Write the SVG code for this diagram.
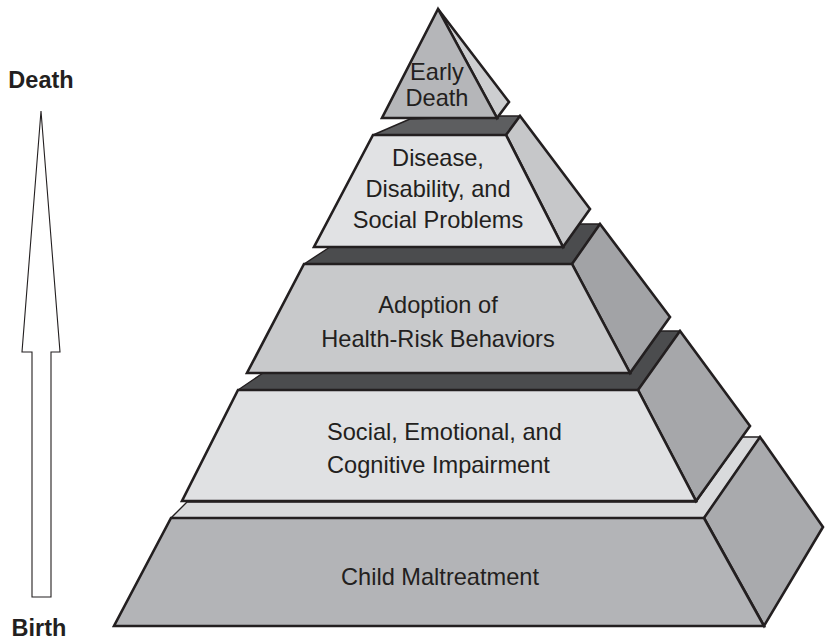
<svg xmlns="http://www.w3.org/2000/svg" width="826" height="642" viewBox="0 0 826 642">
  <style>
    .edge { stroke: #231f20; stroke-width: 2.6; stroke-linejoin: miter; }
    .band { stroke: #231f20; stroke-width: 1.4; stroke-linejoin: round; }
    .lbl { font-family: "Liberation Sans", Arial, Helvetica, sans-serif; font-size: 23.6px; fill: #231f20; }
    .axis { font-family: "Liberation Sans", Arial, Helvetica, sans-serif; font-size: 23.5px; font-weight: bold; fill: #231f20; }
    .mid { text-anchor: middle; }
  </style>
  <rect width="826" height="642" fill="#ffffff"/>

  <!-- life-course arrow, birth to death -->
  <g id="connectors">
    <polygon points="41,111 60,352 51,352 51,597 32,597 32,352 22,352" fill="#ffffff" stroke="#231f20" stroke-width="1.1"/>
    <text class="axis mid" x="41" y="88">Death</text>
    <text class="axis mid" x="39" y="636">Birth</text>
  </g>

  <!-- base tier -->
  <g id="child-maltreatment">
    <polygon class="band" points="171,518 187,502 696,502 742,437 760,437 704,518" fill="#d9dadc"/>
    <polygon class="edge" points="704,518 760,437 823,527 764,626" fill="#a9aaad"/>
    <polygon class="edge" points="171,518 704,518 764,626 114,626" fill="#b3b4b7"/>
    <text class="lbl mid" x="440" y="585">Child Maltreatment</text>
  </g>

  <g id="impairment">
    <polygon class="band" points="238,390 263,373 630,373 660,331 680,331 638,390" fill="#4b4c4e"/>
    <polygon class="edge" points="638,390 680,331 750,426 696,501" fill="#a6a7aa"/>
    <polygon class="edge" points="238,390 638,390 696,501 182,501" fill="#e0e1e3"/>
    <text class="lbl" x="327" y="440">Social, Emotional, and</text>
    <text class="lbl" x="327" y="473">Cognitive Impairment</text>
  </g>

  <g id="health-risk">
    <polygon class="band" points="304,264 330,247 563,247 579,224 600,224 572,264" fill="#4b4c4e"/>
    <polygon class="edge" points="572,264 600,224 670,317 630,373" fill="#a2a3a6"/>
    <polygon class="edge" points="304,264 572,264 630,373 247,373" fill="#c8c9cb"/>
    <text class="lbl mid" x="438" y="313">Adoption of</text>
    <text class="lbl mid" x="438" y="347">Health-Risk Behaviors</text>
  </g>

  <g id="disease">
    <polygon class="band" points="373,135 410,119 498,116 520,116 506,135" fill="#5d5e60"/>
    <polygon class="edge" points="506,135 520,116 590,209 563,247" fill="#c6c7c9"/>
    <polygon class="edge" points="373,135 506,135 563,247 314,247" fill="#e1e2e4"/>
    <text class="lbl mid" x="438" y="166">Disease,</text>
    <text class="lbl mid" x="438" y="197">Disability, and</text>
    <text class="lbl mid" x="438" y="228">Social Problems</text>
  </g>

  <!-- apex -->
  <g id="early-death">
    <polygon class="edge" points="438,9 509,102 497,118" fill="#cdced0"/>
    <polygon class="edge" points="438,9 497,118 382,118" fill="#b5b6b9"/>
    <text class="lbl mid" x="437" y="80">Early</text>
    <text class="lbl mid" x="437" y="106">Death</text>
  </g>
</svg>
